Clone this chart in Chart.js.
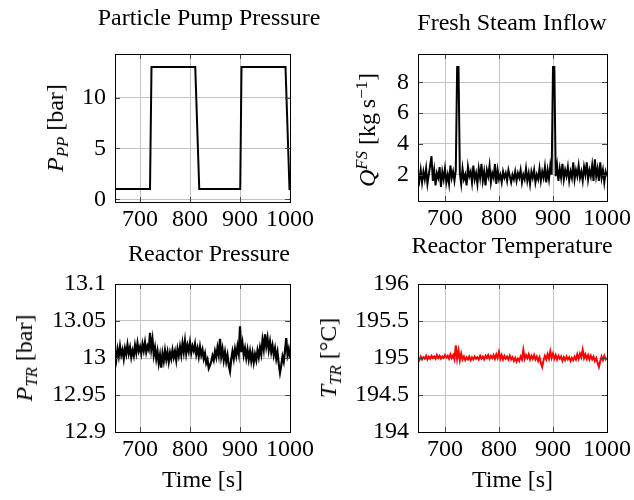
<!DOCTYPE html>
<html>
<head>
<meta charset="utf-8">
<script src="https://cdn.jsdelivr.net/npm/chart.js@4.4.1/dist/chart.umd.min.js"></script>
<style>
  html, body { margin: 0; padding: 0; background: #fff; }
  #wrap { position: relative; width: 634px; height: 500px; overflow: hidden; font-family: "Liberation Serif", "Times New Roman", serif; color: #000; }
  canvas { position: absolute; }
  .title { position: absolute; font-size: 24px; white-space: nowrap; transform: translateX(-50%); line-height: 1; }
  .ylab { position: absolute; font-size: 24px; white-space: nowrap; line-height: 1; transform: translate(-50%, -50%) rotate(-90deg); }
  .sb { font-size: 0.7em; position: relative; top: 0.3em; font-style: italic; }
  .sp { font-size: 0.7em; position: relative; top: -0.45em; }
</style>
</head>
<body>
<div id="wrap">
  <canvas id="c1" width="317" height="240" style="left:0;top:0"></canvas>
  <canvas id="c2" width="317" height="240" style="left:317px;top:0"></canvas>
  <canvas id="c3" width="317" height="260" style="left:0;top:240px"></canvas>
  <canvas id="c4" width="317" height="260" style="left:317px;top:240px"></canvas>

  <div class="title" style="left:209px;top:5px">Particle Pump Pressure</div>
  <div class="title" style="left:512px;top:10px">Fresh Steam Inflow</div>
  <div class="title" style="left:209px;top:241px">Reactor Pressure</div>
  <div class="title" style="left:512px;top:233px">Reactor Temperature</div>

  <div class="ylab" style="left:55px;top:128px"><i>P</i><span class="sb">PP</span> [bar]</div>
  <div class="ylab" style="left:367px;top:130px"><i>Q</i><span class="sp"><i>FS</i></span> [kg&#8201;s<span class="sp">&minus;1</span>]</div>
  <div class="ylab" style="left:24px;top:358px"><i>P</i><span class="sb">TR</span> [bar]</div>
  <div class="ylab" style="left:328px;top:358px"><i>T</i><span class="sb">TR</span> [&deg;C]</div>
</div>
<script>
// ---------------- data ----------------
const xTicks = [700, 800, 900, 1000];
const xTickLabels = ["700", "800", "900", "1000"];

// Particle pump pressure (bar)
const ppTime  = [650, 720, 723, 810.5, 818.5, 900.5, 903, 991, 999, 1000];
const ppValue = [1, 1, 13, 13, 1, 1, 13, 13, 1, 1];
const ppYTicks = [0, 5, 10];
const ppYTickLabels = ["0", "5", "10"];

// common time base of the sampled signals (s)
const sTime = [650,652.5,655,657.5,660,662.5,665,667.5,670,672.5,675,677.5,680,682.5,685,687.5,690,692.5,695,697.5,
  700,702.5,705,707.5,710,712.5,715,717.5,720,722.5,725,727.5,730,732.5,735,737.5,740,742.5,745,747.5,
  750,752.5,755,757.5,760,762.5,765,767.5,770,772.5,775,777.5,780,782.5,785,787.5,790,792.5,795,797.5,
  800,802.5,805,807.5,810,812.5,815,817.5,820,822.5,825,827.5,830,832.5,835,837.5,840,842.5,845,847.5,
  850,852.5,855,857.5,860,862.5,865,867.5,870,872.5,875,877.5,880,882.5,885,887.5,890,892.5,895,897.5,
  900,902.5,905,907.5,910,912.5,915,917.5,920,922.5,925,927.5,930,932.5,935,937.5,940,942.5,945,947.5,
  950,952.5,955,957.5,960,962.5,965,967.5,970,972.5,975,977.5,980,982.5,985,987.5,990,992.5,995,997.5,1000];

// Fresh steam inflow (kg/s)
const fsValue = [2.1,1.6,2.3,1.5,2.2,1.7,2.4,1.4,2.0,2.6,3.2,1.6,2.3,1.3,2.1,1.8,2.5,1.2,2.2,1.7,
  2.4,1.5,2.0,1.4,2.6,1.8,2.2,1.6,2.3,9.0,9.0,2.1,1.4,2.4,1.7,2.0,1.3,2.5,1.9,2.2,
  1.5,2.6,1.7,2.1,1.4,2.4,1.8,2.7,1.6,2.2,1.3,2.3,1.9,2.6,1.5,2.1,1.8,2.7,1.4,2.3,
  1.7,2.0,1.5,2.2,1.8,2.1,1.6,2.3,1.9,1.5,2.0,1.7,2.2,1.6,2.1,1.8,2.3,1.5,2.0,1.7,
  2.4,1.6,2.1,1.4,2.2,1.8,2.3,1.5,2.0,1.7,2.4,1.6,2.2,1.8,2.5,1.5,2.3,1.7,2.6,2.0,
  9.0,9.0,1.9,2.6,1.6,2.4,1.8,2.7,1.7,2.3,1.9,2.5,1.6,2.2,1.8,2.8,1.7,2.3,1.9,2.6,
  1.8,2.2,1.6,2.5,2.0,2.8,1.7,2.3,1.9,2.6,1.6,3.0,1.9,2.4,1.6,2.8,1.8,2.3,1.5,2.2,1.9];
const fsYTicks = [2, 4, 6, 8];
const fsYTickLabels = ["2", "4", "6", "8"];

// Reactor pressure (bar)
const prValue = [13.010,12.998,13.012,13.002,13.016,13.004,13.011,12.999,13.013,13.005,
  13.018,13.006,13.014,13.001,13.010,13.003,13.017,13.007,13.020,13.009,
  13.015,13.006,13.019,13.010,13.021,13.008,13.016,13.011,13.034,13.012,
  13.025,13.004,13.014,12.999,13.009,12.993,13.004,12.987,13.006,12.996,
  13.010,12.998,13.008,12.995,13.007,12.999,13.011,13.001,13.009,12.997,
  13.012,13.003,13.015,13.004,13.020,13.008,13.023,13.006,13.017,13.009,
  13.021,13.007,13.016,13.010,13.019,13.005,13.013,13.002,13.015,13.004,
  13.011,12.999,13.006,12.993,12.998,12.986,12.990,12.995,13.003,12.997,
  13.009,13.001,13.014,13.004,13.026,13.002,13.012,12.997,13.008,12.995,
  13.004,12.990,12.982,12.998,13.009,12.999,13.012,13.003,13.016,13.006,
  13.043,13.008,13.020,13.004,13.013,13.000,13.011,12.998,13.009,12.996,
  13.007,12.994,13.005,12.997,13.010,13.001,13.014,13.005,13.024,13.012,
  13.032,13.016,13.027,13.011,13.022,13.008,13.017,13.004,13.013,12.999,
  13.008,12.992,12.980,12.990,13.002,12.995,13.010,13.027,13.004,13.012,13.000];
const prYTicks = [12.9, 12.95, 13, 13.05, 13.1];
const prYTickLabels = ["12.9", "12.95", "13", "13.05", "13.1"];

// Reactor temperature (°C)
const trValue = [195.00,194.97,195.02,194.98,195.01,194.99,195.03,194.98,195.02,194.99,
  195.03,195.00,195.02,194.99,195.04,195.00,195.03,194.99,195.02,195.00,
  195.04,195.01,195.03,194.99,195.05,195.00,195.04,194.98,195.17,194.99,
  195.10,194.97,195.06,194.98,195.02,194.97,195.01,194.98,195.02,194.97,
  195.01,194.98,195.02,194.99,195.01,194.98,195.03,194.99,195.02,194.98,
  195.03,195.00,195.04,194.99,195.03,195.00,195.04,194.99,195.05,195.00,
  195.08,194.99,195.04,194.98,195.03,194.99,195.02,194.98,195.03,194.98,
  195.01,194.96,195.00,194.95,194.99,194.96,195.02,194.98,195.11,194.99,
  195.04,195.00,195.05,194.98,195.03,194.99,195.04,194.98,195.02,194.96,
  195.01,194.93,194.88,194.97,195.03,194.98,195.05,194.99,195.09,195.00,
  195.06,194.99,195.04,194.98,195.03,194.99,195.02,194.96,195.01,194.97,
  195.02,194.98,195.01,194.96,195.00,194.97,195.02,194.98,195.05,194.99,
  195.06,195.01,195.11,195.00,195.05,194.99,195.04,194.98,195.03,194.98,
  195.02,194.96,195.00,194.94,194.88,194.96,195.02,194.97,195.03,194.98,195.00];
const trYTicks = [194, 194.5, 195, 195.5, 196];
const trYTickLabels = ["194", "194.5", "195", "195.5", "196"];

// ---------------- drawing ----------------
const FONT = { family: "'Liberation Serif', 'Times New Roman', serif", size: 24 };
const GRID = '#c4c4c4';

const framePlugin = {
  id: 'frame',
  afterDatasetsDraw(chart) {
    const { ctx, chartArea: a, scales } = chart;
    ctx.save();
    ctx.strokeStyle = '#444';
    ctx.lineWidth = 1;
    const L = 5;
    ctx.beginPath();
    scales.x.ticks.forEach(t => {
      const px = Math.round(scales.x.getPixelForValue(t.value)) + 0.5;
      ctx.moveTo(px, a.bottom); ctx.lineTo(px, a.bottom - L);
      ctx.moveTo(px, a.top); ctx.lineTo(px, a.top + L);
    });
    scales.y.ticks.forEach(t => {
      const py = Math.round(scales.y.getPixelForValue(t.value)) + 0.5;
      ctx.moveTo(a.left, py); ctx.lineTo(a.left + L, py);
      ctx.moveTo(a.right, py); ctx.lineTo(a.right - L, py);
    });
    ctx.stroke();
    ctx.strokeStyle = '#000';
    ctx.strokeRect(Math.round(a.left) + 0.5, Math.round(a.top) + 0.5,
                   Math.round(a.right - a.left), Math.round(a.bottom - a.top));
    ctx.restore();
  }
};

function makeChart(id, xs, ys, color, lw, yMin, yMax, yT, yTL, geom, withXTitle) {
  const pts = xs.map((x, i) => ({ x: x, y: ys[i] }));
  return new Chart(document.getElementById(id), {
    type: 'line',
    data: { datasets: [{ data: pts, borderColor: color, borderWidth: lw, pointRadius: 0,
      fill: false, tension: 0, borderJoinStyle: 'miter' }] },
    options: {
      responsive: false, animation: false, devicePixelRatio: 1,
      layout: { padding: { left: 0, top: geom.top, right: geom.right, bottom: 0 } },
      plugins: { legend: { display: false }, tooltip: { enabled: false } },
      scales: {
        x: {
          type: 'linear', min: 650, max: 1000,
          afterBuildTicks: s => { s.ticks = xTicks.map(v => ({ value: v })); },
          afterFit: s => { s.height = geom.xh; },
          grid: { color: GRID, lineWidth: 1, drawTicks: false },
          border: { display: false },
          ticks: { font: FONT, color: '#000', padding: 3, maxRotation: 0,
            callback: v => xTickLabels[xTicks.indexOf(v)] },
          title: { display: withXTitle, text: 'Time [s]', font: FONT, color: '#000',
            padding: { top: 0, bottom: 5 } }
        },
        y: {
          type: 'linear', min: yMin, max: yMax,
          afterBuildTicks: s => { s.ticks = yT.map(v => ({ value: v })); },
          afterFit: s => { s.width = geom.yw; },
          grid: { color: GRID, lineWidth: 1, drawTicks: false },
          border: { display: false },
          ticks: { font: FONT, color: '#000', padding: 9,
            callback: v => yTL[yT.indexOf(v)] }
        }
      }
    },
    plugins: [framePlugin]
  });
}

makeChart('c1', ppTime, ppValue, '#000', 2, -0.27, 14.28, ppYTicks, ppYTickLabels,
  { top: 54, right: 12, xh: 38, yw: 115 }, false);
makeChart('c2', sTime, fsValue, '#000', 2, 0.29, 9.85, fsYTicks, fsYTickLabels,
  { top: 54, right: 26, xh: 39, yw: 101 }, false);
makeChart('c3', sTime, prValue, '#000', 2.2, 12.9, 13.1, prYTicks, prYTickLabels,
  { top: 44, right: 12, xh: 68, yw: 115 }, true);
makeChart('c4', sTime, trValue, '#ff0000', 2, 194, 196, trYTicks, trYTickLabels,
  { top: 44, right: 26, xh: 68, yw: 101 }, true);
</script>
</body>
</html>
